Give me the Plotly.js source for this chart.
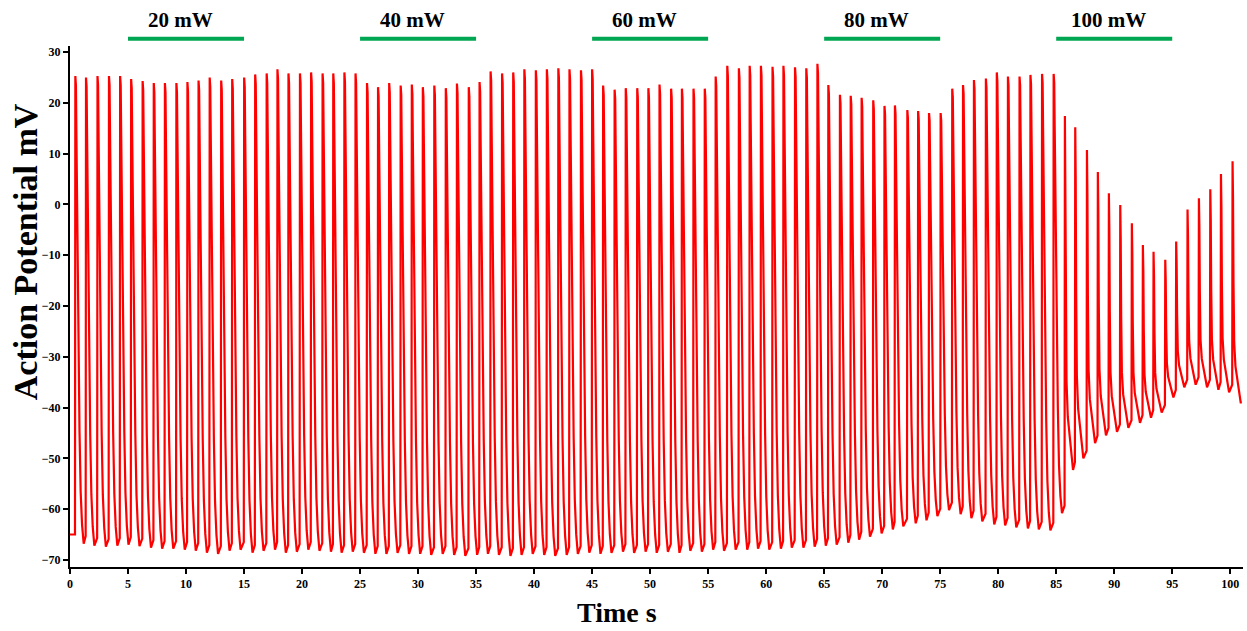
<!DOCTYPE html>
<html>
<head>
<meta charset="utf-8">
<script src="https://cdn.plot.ly/plotly-3.0.1.min.js"></script>
<style>html,body{margin:0;padding:0;background:#fff;}#chart{width:1247px;height:631px;}</style>
</head>
<body>
<div id="chart"></div>
<script>
// Peak times (s) of each action potential
const spikeTime = [0.46,1.38,2.37,3.36,4.32,5.27,6.26,7.22,8.18,9.17,
  10.12,11.08,12.04,13.03,13.98,15.01,15.96,16.95,17.88,18.83,
  19.82,20.78,21.77,22.69,23.65,24.61,25.60,26.55,27.51,28.50,
  29.46,30.41,31.40,32.39,33.35,34.37,35.30,36.25,37.24,38.20,
  39.16,40.15,41.10,42.09,43.05,44.04,45.00,45.95,46.94,47.90,
  48.89,49.85,50.81,51.81,52.74,53.74,54.71,55.65,56.65,57.65,
  58.58,59.55,60.55,61.49,62.49,63.46,64.42,65.36,66.36,67.29,
  68.23,69.23,70.20,71.10,72.17,73.10,74.04,75.04,76.04,76.97,
  77.91,78.94,79.88,80.84,81.84,82.78,83.78,84.78,85.75,86.64,
  87.65,88.59,89.54,90.52,91.52,92.47,93.39,94.40,95.34,96.32,
  97.30,98.28,99.20,100.20];
// Peak voltage (mV) of each spike
const spikePeak = [25.3,25.0,25.3,25.3,25.3,24.7,24.3,23.9,23.9,23.9,
  24.1,24.4,25.0,24.4,24.7,25.0,25.6,25.8,26.6,25.8,
  25.8,26.0,25.8,25.8,26.0,25.8,23.9,23.1,23.9,23.4,
  23.6,23.1,23.4,22.9,23.8,23.1,24.1,26.2,25.8,26.0,
  26.6,26.4,26.6,26.8,26.6,26.4,26.6,23.4,22.6,22.9,
  22.9,22.9,23.6,22.8,22.8,22.8,22.8,25.2,27.3,26.8,
  27.3,27.3,27.1,27.3,27.0,26.8,27.7,23.5,21.6,21.4,
  21.0,20.5,19.4,19.5,18.6,18.4,18.0,18.0,22.8,23.5,
  24.5,24.8,26.0,25.2,25.2,25.5,25.7,25.7,17.4,15.2,
  10.7,6.4,2.2,-0.1,-3.7,-8.0,-9.3,-10.9,-7.3,-1.0,
  1.2,3.0,6.0,8.5];
// Trough voltage (mV) after each spike
const spikeTrough = [-66.8,-67.2,-67.4,-67.2,-67.0,-67.3,-67.6,-67.8,-67.8,-68.0,
  -68.2,-68.6,-68.8,-68.2,-68.0,-68.6,-68.2,-68.0,-68.6,-68.4,
  -68.0,-68.2,-68.4,-68.6,-68.4,-68.6,-68.8,-68.8,-68.6,-68.8,
  -68.8,-69.0,-68.8,-69.0,-69.2,-69.0,-68.8,-69.0,-69.2,-69.0,
  -68.8,-69.0,-69.2,-69.0,-68.8,-68.6,-68.8,-68.6,-68.4,-68.6,
  -68.4,-68.6,-68.4,-68.6,-68.2,-68.4,-68.0,-68.2,-68.0,-68.0,
  -67.8,-68.0,-67.8,-67.6,-67.6,-67.4,-67.2,-67.0,-66.6,-66.0,
  -65.4,-64.8,-64.0,-63.4,-62.8,-62.2,-61.4,-60.2,-61.0,-61.8,
  -62.4,-63.0,-63.2,-63.6,-63.8,-64.0,-64.2,-60.8,-52.3,-50.0,
  -47.0,-45.5,-44.8,-44.0,-43.0,-42.0,-41.0,-38.0,-36.0,-35.5,
  -36.0,-36.5,-37.0,-39.0];
const startLevel = -65.0;
const endTime = 101.0, endLevel = -39.0;
// Waveform template: time after peak (s) and fraction of trough->peak
const normDt   = [0, 0.05, 0.09, 0.14, 0.25, 0.36, 0.46, 0.58, 0.72];
const normFrac = [1, 0.98, 0.88, 0.73, 0.40, 0.24, 0.11, 0.04, 0];
const lateDt   = [0, 0.04, 0.08, 0.14, 0.25, 0.45, 0.70];
const lateFrac = [1, 0.85, 0.50, 0.25, 0.15, 0.08, 0];
const lateFrom = 85.5;

// Stimulation bars
const stimStart = [5, 25, 45, 65, 85];
const stimEnd   = [15, 35, 55, 75, 95];
const stimLabel = ["20 mW", "40 mW", "60 mW", "80 mW", "100 mW"];

const xTicks = [0,5,10,15,20,25,30,35,40,45,50,55,60,65,70,75,80,85,90,95,100];
const yTicks = [-70,-60,-50,-40,-30,-20,-10,0,10,20,30];

const xs = [0], ys = [startLevel];
for (let i = 0; i < spikeTime.length; i++) {
  const ts = spikeTime[i], pk = spikePeak[i], tr = spikeTrough[i];
  const pre = i === 0 ? startLevel : spikeTrough[i-1] + 1.5;
  const late = ts > lateFrom;
  const dt = late ? lateDt : normDt, fr = late ? lateFrac : normFrac;
  xs.push(ts - 0.03); ys.push(pre);
  for (let k = 0; k < dt.length; k++) {
    xs.push(ts + dt[k]); ys.push(tr + fr[k] * (pk - tr));
  }
}
xs.push(endTime); ys.push(endLevel);

const serif = 'Liberation Serif, "Times New Roman", Times, serif';
const shapes = stimStart.map((s, i) => ({
  type: 'line', xref: 'x', yref: 'paper', x0: s, x1: stimEnd[i], y0: 1.014, y1: 1.014,
  line: {color: '#00A651', width: 4}
}));
const annotations = stimLabel.map((t, i) => ({
  text: t, xref: 'x', yref: 'paper', x: (stimStart[i] + stimEnd[i]) / 2, y: 1.05,
  xanchor: 'center', yanchor: 'middle', xshift: -6, showarrow: false,
  font: {family: serif, size: 21, color: '#000', weight: 'bold'}
}));
annotations.push({
  text: 'Action Potential mV', xref: 'paper', yref: 'paper', x: -0.038, y: 0.605,
  xanchor: 'center', yanchor: 'middle', textangle: -90, showarrow: false,
  font: {family: serif, size: 34, color: '#000', weight: 'bold'}
});
annotations.push({
  text: 'Time s', xref: 'paper', yref: 'paper', x: 0.466, y: -0.0864,
  xanchor: 'center', yanchor: 'middle', showarrow: false,
  font: {family: serif, size: 28, color: '#000', weight: 'bold'}
});

const axisCommon = {
  showline: true, linecolor: '#000', linewidth: 2, ticks: 'outside', ticklen: 5,
  tickwidth: 2, tickcolor: '#000', showgrid: false, zeroline: false,
  tickfont: {family: serif, size: 12, color: '#000', weight: 'bold'}
};

Plotly.newPlot('chart', [{
  x: xs, y: ys, type: 'scatter', mode: 'lines',
  line: {color: '#FF0000', width: 2.2}, hoverinfo: 'skip'
}], {
  width: 1247, height: 631,
  margin: {l: 70, r: 4, t: 46, b: 64},
  paper_bgcolor: '#fff', plot_bgcolor: '#fff', showlegend: false,
  xaxis: Object.assign({}, axisCommon, {range: [0, 101.1], tickvals: xTicks, ticklabelstandoff: 0}),
  yaxis: Object.assign({}, axisCommon, {range: [-71.4, 31.2], tickvals: yTicks}),
  shapes: shapes, annotations: annotations
}, {staticPlot: true, displayModeBar: false});
</script>
</body>
</html>
